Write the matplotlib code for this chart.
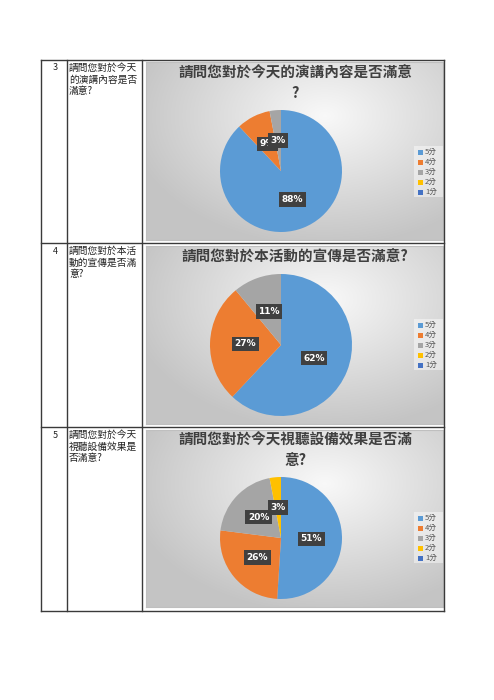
import numpy as np
import matplotlib
matplotlib.use("Agg")
import matplotlib.pyplot as plt
from matplotlib.patches import Rectangle

plt.rcParams['font.family'] = ['Noto Sans CJK TC', 'DejaVu Sans']

# data
categories = ['5分', '4分', '3分', '2分', '1分']
colors = ['#5B9BD5', '#ED7D31', '#A5A5A5', '#FFC000', '#4472C4']
row_numbers = ['3', '4', '5']
row_questions = [
    ['請問您對於今天', '的演講內容是否', '滿意?'],
    ['請問您對於本活', '動的宣傳是否滿', '意?'],
    ['請問您對於今天', '視聽設備效果是', '否滿意?'],
]
chart_titles = [
    '請問您對於今天的演講內容是否滿意\n?',
    '請問您對於本活動的宣傳是否滿意?',
    '請問您對於今天視聽設備效果是否滿\n意?',
]
q3_values = [88, 9, 3, 0, 0]
q4_values = [62, 27, 11, 0, 0]
q5_values = [51, 26, 20, 3, 0]
all_values = [q3_values, q4_values, q5_values]

W, H = 494, 700
fig = plt.figure(figsize=(W / 100, H / 100), dpi=100)


def px_rect(x0, y0, x1, y1):
    # pixel box (top-left origin) -> figure fraction rect
    return [x0 / W, 1 - y1 / H, (x1 - x0) / W, (y1 - y0) / H]


# page / table layer, drawn above the chart backgrounds
page = fig.add_axes([0, 0, 1, 1])
page.set_xlim(0, W)
page.set_ylim(H, 0)
page.axis('off')
page.set_zorder(10)
page.patch.set_visible(False)

col_x = [41, 67, 142, 444]
row_y = [60, 243, 427, 611]
for x in col_x:
    page.plot([x, x], [row_y[0], row_y[-1]], color='#3a3a3a', lw=1.0)
for y in row_y:
    page.plot([col_x[0], col_x[-1]], [y, y], color='#3a3a3a', lw=1.0)

for i in range(3):
    top = row_y[i]
    page.text(53, top + 8, row_numbers[i], fontsize=6.5, ha='left', va='center', color='#222222')
    for j, line in enumerate(row_questions[i]):
        page.text(69, top + 8 + j * 11.5, line, fontsize=7, ha='left', va='center', color='#222222')

# chart boxes
chart_boxes = [(146, 62, 443, 240), (146, 246, 443, 424), (146, 430, 443, 607)]
pie_specs = [(281, 171, 61), (281, 345, 71), (281, 538, 61)]
title_y = [65, 249, 432]
legend_y = [152, 325, 518]

# background gradient
gh, gw = 180, 300
yy, xx = np.mgrid[0:gh, 0:gw]
dist = np.sqrt(((xx / gw - 0.6) * 1.1) ** 2 + ((yy / gh - 0.3) * 1.0) ** 2)
shade = np.clip(0.975 - 0.28 * dist, 0.77, 1.0)
grad = np.dstack([shade, shade, shade])

for i in range(3):
    x0, y0, x1, y1 = chart_boxes[i]
    bg = fig.add_axes(px_rect(x0, y0, x1, y1))
    bg.imshow(grad, aspect='auto', extent=[0, 1, 0, 1], interpolation='bilinear')
    bg.set_xlim(0, 1)
    bg.set_ylim(0, 1)
    bg.set_xticks([])
    bg.set_yticks([])
    for s in bg.spines.values():
        s.set_color('#bfbfbf')
        s.set_linewidth(0.8)

    # title
    page.text(295, title_y[i], chart_titles[i], fontsize=10.5, fontweight='bold',
              color='#404040', ha='center', va='top', linespacing=1.3)
    # pie
    cx, cy, r = pie_specs[i]
    pax = fig.add_axes(px_rect(cx - r, cy - r, cx + r, cy + r))
    wedges, texts, autotexts = pax.pie(
        all_values[i], colors=colors, startangle=90, counterclock=False,
        autopct=lambda p: f'{p:.0f}%' if p > 0 else '', pctdistance=0.5,
        textprops=dict(color='white', fontsize=6.5, fontweight='bold',
                       family=['DejaVu Sans']),
        wedgeprops=dict(linewidth=0))
    for t in autotexts:
        if t.get_text():
            t.set_bbox(dict(boxstyle='square,pad=0.3', fc='#404040', ec='none'))
    pax.set_xlim(-1, 1)
    pax.set_ylim(-1, 1)
    pax.set_aspect('equal')
    pax.axis('off')

    # legend
    ly = legend_y[i]
    page.add_patch(Rectangle((414, ly - 6), 29, 51, fc='white', ec='none', alpha=0.45))
    for k, cat in enumerate(categories):
        yk = ly + k * 10
        page.add_patch(Rectangle((418, yk - 2.5), 5, 5, fc=colors[k], ec='none'))
        page.text(425, yk, cat, fontsize=5.5, color='#595959', ha='left', va='center')

fig.savefig('out.png', dpi=100)
